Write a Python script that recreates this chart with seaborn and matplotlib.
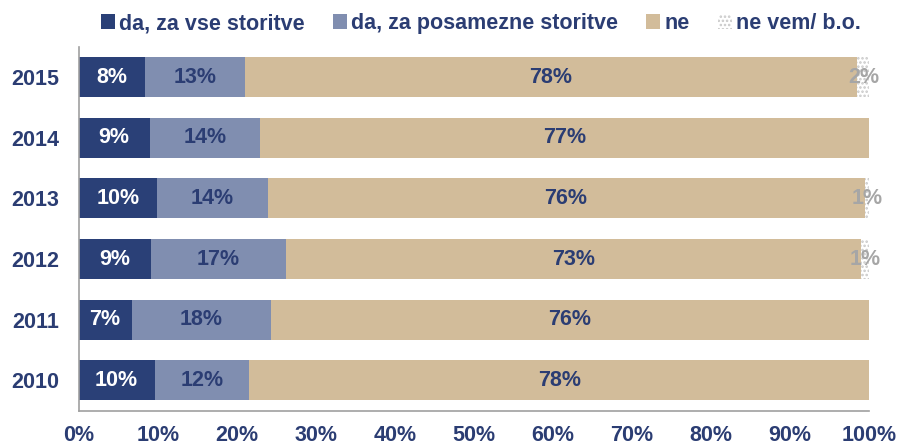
import matplotlib
matplotlib.use("Agg")
import matplotlib.pyplot as plt
from matplotlib.patches import Patch
from matplotlib.ticker import FixedLocator, PercentFormatter
import seaborn as sns
import pandas as pd
import numpy as np

years = ["2015", "2014", "2013", "2012", "2011", "2010"]
series_names = ["da, za vse storitve", "da, za posamezne storitve", "ne", "ne vem/ b.o."]
da_vse = [8.4, 9.0, 9.9, 9.2, 6.7, 9.6]
da_posamezne = [12.6, 13.9, 14.0, 17.0, 17.6, 12.0]
ne = [77.5, 77.1, 75.5, 72.8, 75.7, 78.4]
ne_vem = [1.5, 0.0, 0.6, 1.0, 0.0, 0.0]
x_ticks = [0, 10, 20, 30, 40, 50, 60, 70, 80, 90, 100]

C_DARK = "#2A4077"
C_MID = "#808EB0"
C_NE = "#D2BC9A"
C_TXT = "#2B3D73"
C_GRAY = "#A6A6A6"

sns.set_style("white")
plt.rcParams["font.family"] = ["Liberation Sans", "DejaVu Sans"]
plt.rcParams["hatch.linewidth"] = 1.2

df = pd.DataFrame({"year": years, "a": da_vse, "b": da_posamezne, "c": ne, "d": ne_vem})
df["cum_a"] = df["a"]
df["cum_b"] = df["a"] + df["b"]
df["cum_c"] = df["cum_b"] + df["c"]
df["cum_d"] = df["cum_c"] + df["d"]

fig = plt.figure(figsize=(8.98, 4.45), dpi=100)
ax = fig.add_axes([0.0876, 0.077, 0.968 - 0.0876, 0.895 - 0.077])

W = 0.66
sns.barplot(data=df, x="cum_d", y="year", order=years, color="white", width=W,
            edgecolor="#C8C8C8", linewidth=0, hatch="....", saturation=1, ax=ax)
sns.barplot(data=df, x="cum_c", y="year", order=years, color=C_NE, width=W,
            linewidth=0, saturation=1, ax=ax)
sns.barplot(data=df, x="cum_b", y="year", order=years, color=C_MID, width=W,
            linewidth=0, saturation=1, ax=ax)
sns.barplot(data=df, x="cum_a", y="year", order=years, color=C_DARK, width=W,
            linewidth=0, saturation=1, ax=ax)

fs = 15.5
for i, r in df.iterrows():
    ax.text(r["a"] / 2, i, f"{r['a']:.0f}%", ha="center", va="center",
            color="white", fontsize=fs, fontweight="bold")
    ax.text(r["cum_a"] + r["b"] / 2, i, f"{r['b']:.0f}%", ha="center", va="center",
            color=C_TXT, fontsize=fs, fontweight="bold")
    ax.text(r["cum_b"] + r["c"] / 2, i, f"{r['c']:.0f}%", ha="center", va="center",
            color=C_TXT, fontsize=fs, fontweight="bold")
    if r["d"] > 0:
        ax.text(r["cum_c"] + r["d"] / 2, i, f"{r['d']:.0f}%", ha="center", va="center",
                color=C_GRAY, fontsize=fs, fontweight="bold")

ax.set_xlim(0, 100)
ax.set_ylim(len(years) - 0.5, -0.5)
ax.set_xlabel("")
ax.set_ylabel("")
ax.xaxis.set_major_locator(FixedLocator(x_ticks))
ax.xaxis.set_major_formatter(PercentFormatter(decimals=0))
ax.yaxis.set_minor_locator(FixedLocator(np.arange(-0.5, len(years), 1.0)))

for s in ["top", "right"]:
    ax.spines[s].set_visible(False)
for s in ["left", "bottom"]:
    ax.spines[s].set_color("#A0A0A0")
    ax.spines[s].set_linewidth(1.2)

ax.tick_params(axis="x", which="major", length=4.5, width=1.2, color="#A0A0A0",
               direction="out", labelsize=fs, labelcolor=C_TXT, pad=6)
ax.tick_params(axis="y", which="major", length=0, labelsize=fs, labelcolor=C_TXT, pad=14)
ax.tick_params(axis="y", which="minor", length=4.5, width=1.2, color="#A0A0A0", direction="out")
for lab in ax.get_xticklabels() + ax.get_yticklabels():
    lab.set_fontweight("bold")

handles = [
    Patch(facecolor=C_DARK, edgecolor="none"),
    Patch(facecolor=C_MID, edgecolor="none"),
    Patch(facecolor=C_NE, edgecolor="none"),
    Patch(facecolor="white", edgecolor="#C8C8C8", hatch="....", linewidth=0),
]
leg = fig.legend(handles, series_names, loc="center left", bbox_to_anchor=(101 / 898, 0.947), ncol=4,
                 frameon=False, handlelength=0.65, handleheight=0.65, handletextpad=0.2,
                 columnspacing=1.3, borderpad=0, borderaxespad=0,
                 prop={"size": fs, "weight": "bold"})
for t in leg.get_texts():
    t.set_color(C_TXT)

fig.savefig("out.png", dpi=100)
